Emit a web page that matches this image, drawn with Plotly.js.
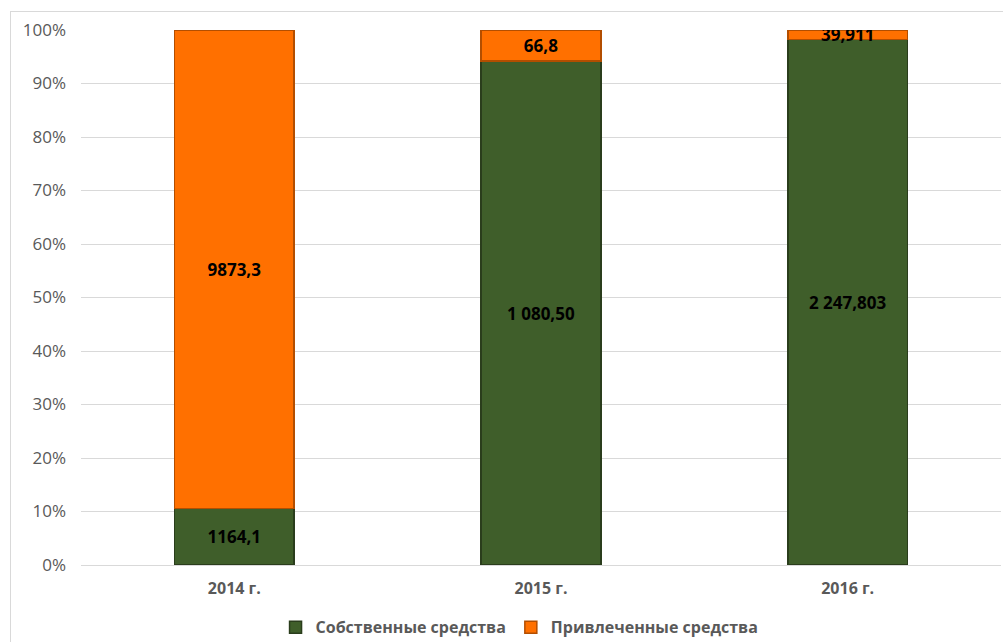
<!DOCTYPE html>
<html>
<head>
<meta charset="utf-8">
<script src="https://cdn.plot.ly/plotly-3.0.1.min.js"></script>
<style>
  html, body { margin: 0; padding: 0; background: #ffffff; }
  #wrap { position: relative; width: 1003px; height: 642px; overflow: hidden; }
  #chart { position: absolute; left: 0; top: 0; width: 1003px; height: 642px; }
  #frame { position: absolute; left: 10px; top: 11px; width: 1000px; height: 640px;
           border: 1px solid #d9d9d9; pointer-events: none; }
</style>
</head>
<body>
<div id="wrap">
  <div id="chart"></div>
  <div id="frame"></div>
</div>
<script>
// Data
const categories = ['2014 г.', '2015 г.', '2016 г.'];
const ownName = 'Собственные средства';
const borrowedName = 'Привлеченные средства';
const ownValues = [1164.1, 1080.50, 2247.803];
const borrowedValues = [9873.3, 66.8, 39.911];
const ownLabels = ['1164,1', '1 080,50', '2 247,803'];
const borrowedLabels = ['9873,3', '66,8', '39,911'];
const yTickVals = [0, 10, 20, 30, 40, 50, 60, 70, 80, 90, 100];
const yTickText = ['0%', '10%', '20%', '30%', '40%', '50%', '60%', '70%', '80%', '90%', '100%'];

const fontFam = '"Open Sans", "Noto Sans", sans-serif';

const traces = [
  {
    type: 'bar', name: ownName, x: categories, y: ownValues,
    text: ownLabels, textposition: 'inside', insidetextanchor: 'middle',
    constraintext: 'none',
    textfont: { family: fontFam, size: 17, color: '#000000', weight: 'bold' },
    marker: { color: '#3F5E2A', line: { color: '#2A3D1C', width: 1.5 } },
    hoverinfo: 'name+text'
  },
  {
    type: 'bar', name: borrowedName, x: categories, y: borrowedValues,
    text: borrowedLabels, textposition: 'inside', insidetextanchor: 'middle',
    constraintext: 'none',
    textfont: { family: fontFam, size: 17, color: '#000000', weight: 'bold' },
    marker: { color: '#FF7000', line: { color: '#B34E00', width: 1.5 } },
    hoverinfo: 'name+text'
  }
];

const layout = {
  width: 1003, height: 642,
  margin: { l: 81, r: 2, t: 30, b: 77 },
  paper_bgcolor: 'rgba(0,0,0,0)',
  plot_bgcolor: '#ffffff',
  barmode: 'stack',
  barnorm: 'percent',
  bargap: 0.61,
  showlegend: true,
  legend: {
    orientation: 'h', xref: 'container', yref: 'container',
    x: 0.518, xanchor: 'center', y: 0.023, yanchor: 'middle',
    traceorder: 'normal',
    font: { family: fontFam, size: 16, color: '#595959', weight: 'bold' },
    itemwidth: 30
  },
  xaxis: {
    tickfont: { family: fontFam, size: 16, color: '#595959', weight: 'bold' },
    showgrid: false, zeroline: false, showline: false, ticks: '',
    ticklabelstandoff: 12
  },
  yaxis: {
    range: [0, 100], tickvals: yTickVals, ticktext: yTickText,
    tickfont: { family: fontFam, size: 17, color: '#595959' },
    showgrid: true, gridcolor: '#d9d9d9', gridwidth: 1,
    zeroline: true, zerolinecolor: '#d9d9d9', zerolinewidth: 1,
    showline: false, ticks: '', ticklabelstandoff: 14
  }
};

Plotly.newPlot('chart', traces, layout, { displayModeBar: false, staticPlot: true });
</script>
</body>
</html>
